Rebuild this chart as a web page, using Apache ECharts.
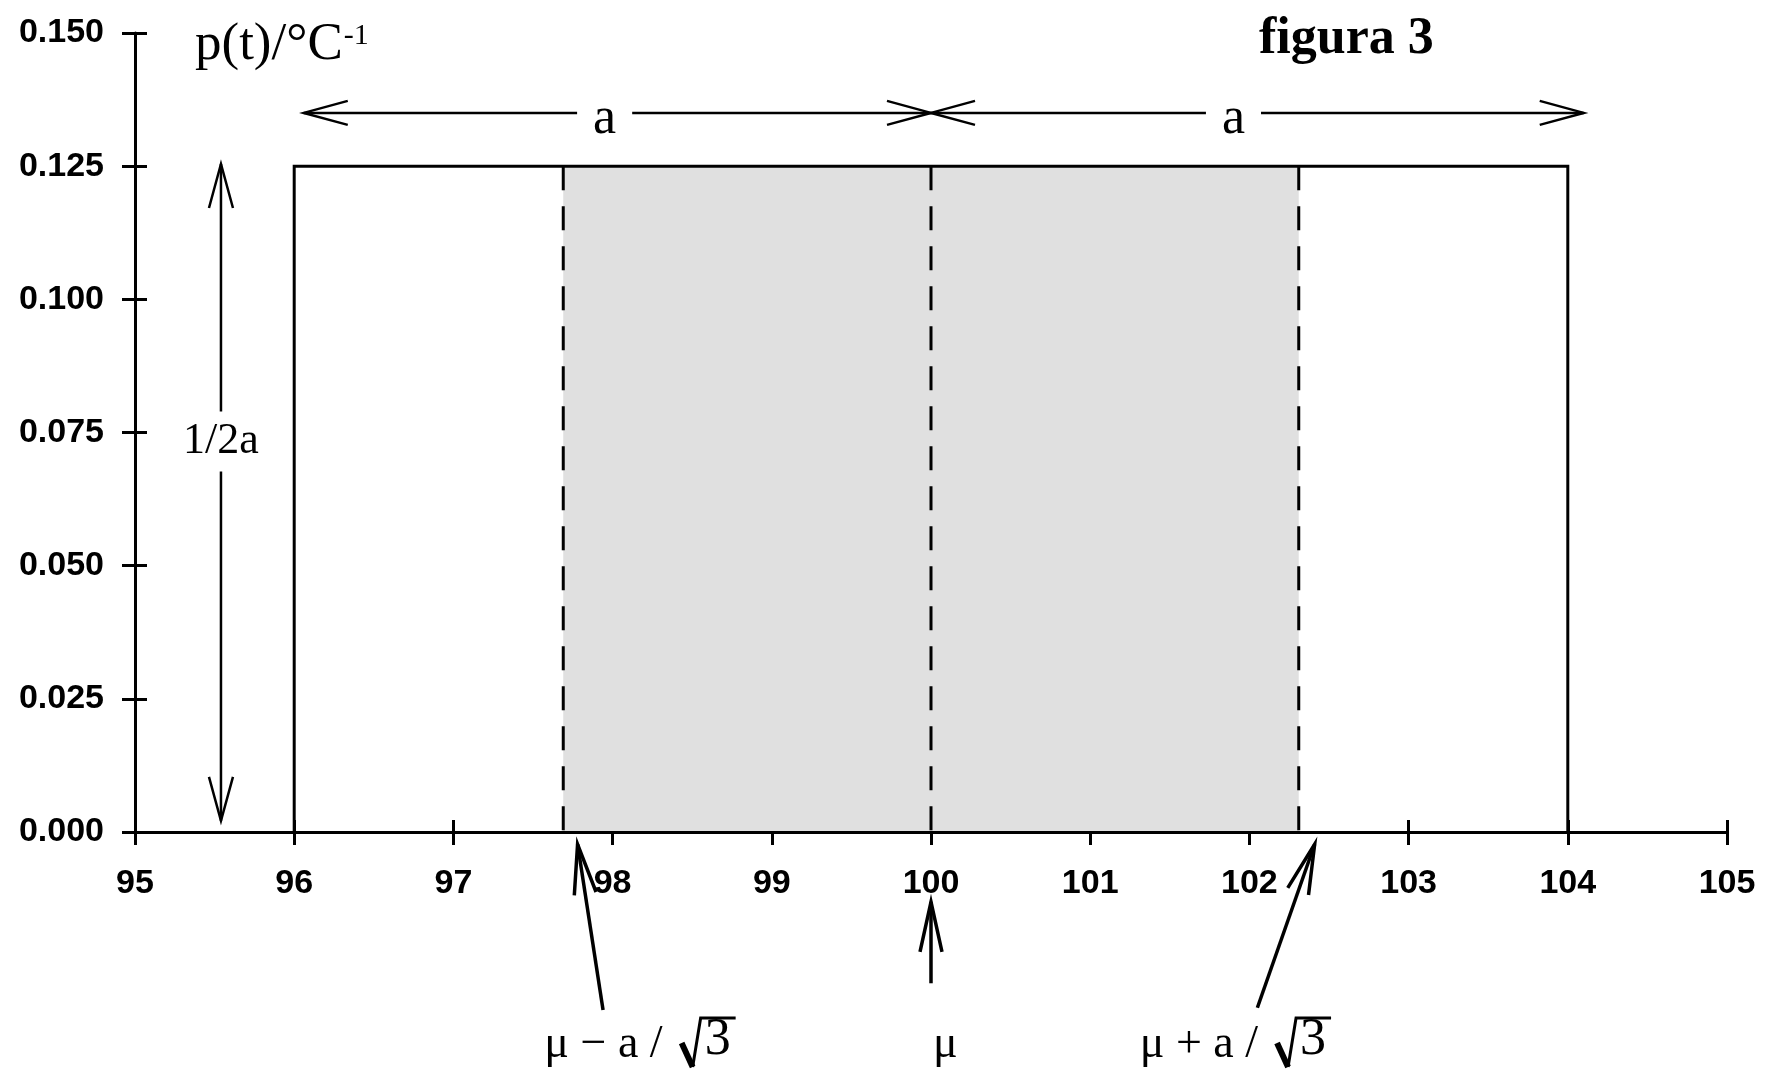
<!DOCTYPE html>
<html>
<head>
<meta charset="utf-8">
<script src="https://cdn.jsdelivr.net/npm/echarts@6/dist/echarts.min.js"></script>
<style>
html,body{margin:0;padding:0;background:#fff;}
#chart{width:1774px;height:1069px;}
</style>
</head>
<body>
<div id="chart"></div>
<script>
// ---------- data ----------
const xRange = [95, 105];
const xStep = 1;
const yRange = [0, 0.150];
const yStep = 0.025;
const yTickLabels = ['0.000', '0.025', '0.050', '0.075', '0.100', '0.125', '0.150'];

// rectangular distribution p(t)
const rectX = [96, 104];
const rectHeight = 0.125;
// shaded band mu - a/sqrt3 .. mu + a/sqrt3
const shadeX = [97.69, 102.31];
// dashed markers
const dashedX = [97.69, 100, 102.31];

// dimension arrows: [x1, y1, x2, y2]
const dimArrows = [
  [96.06, 0.135, 100, 0.135],
  [100, 0.135, 104.1, 0.135],
  [95.54, 0.0021, 95.54, 0.1254]
];
const dimLabelText = ['a', 'a', '1/2a'];
const dimLabelX = [97.95, 101.9, 95.54];
const dimLabelY = [0.1337, 0.1337, 0.0733];

// pointer arrows below the axis: [tailX, tailY, tipX, tipY]
const pointerArrows = [
  [97.94, -0.0334, 97.78, -0.0023],
  [100, -0.0284, 100, -0.0131],
  [102.05, -0.0330, 102.41, -0.0023]
];
const pointerLabelText = ['μ − a /', 'μ', 'μ + a /'];
const pointerLabelX = [98.44, 100.09, 102.18];
const pointerLabelY = [-0.0400, -0.0400, -0.0400];
const pointerLabelRoot = ['3', '', '3'];

const titleText = 'figura 3';
const yName = ['p(t)/°C', '-1'];

// ---------- helpers ----------
function arrowHead(tip, from, len, hw) {
  const dx = from[0] - tip[0], dy = from[1] - tip[1];
  const d = Math.hypot(dx, dy) || 1;
  const ux = dx / d, uy = dy / d;
  const bx = tip[0] + ux * len, by = tip[1] + uy * len;
  return [[bx - uy * hw, by + ux * hw], tip, [bx + uy * hw, by - ux * hw]];
}
function strokeStyle(w) {
  return { stroke: '#000', lineWidth: w, fill: null, lineCap: 'butt', lineJoin: 'miter' };
}
const SERIF = '"Liberation Serif", "Times New Roman", serif';
const SANS = '"Liberation Sans", Arial, sans-serif';

const chart = echarts.init(document.getElementById('chart'), null, { renderer: 'canvas' });

const baseAxisLine = { show: true, lineStyle: { color: '#000', width: 3 } };

const option = {
  animation: false,
  backgroundColor: '#fff',
  title: {
    text: titleText,
    left: 1254,
    top: 9,
    textStyle: { fontFamily: SERIF, fontWeight: 'bold', fontSize: 52, color: '#000' }
  },
  grid: { left: 135, right: 47, top: 33, bottom: 237, containLabel: false },
  xAxis: [
    {
      type: 'value', min: xRange[0], max: xRange[1], interval: xStep,
      position: 'bottom', z: 3,
      axisLine: baseAxisLine,
      axisTick: { show: true, inside: false, length: 13, lineStyle: { color: '#000', width: 3 } },
      axisLabel: { show: true, margin: 35, color: '#000', fontFamily: SANS, fontWeight: 'bold', fontSize: 34 },
      splitLine: { show: false }
    },
    {
      type: 'value', min: xRange[0], max: xRange[1], interval: xStep,
      position: 'bottom', z: 0,
      axisLine: { show: false },
      axisTick: { show: true, inside: true, length: 12, lineStyle: { color: '#000', width: 3 } },
      axisLabel: { show: false },
      splitLine: { show: false }
    }
  ],
  yAxis: [
    {
      type: 'value', min: yRange[0], max: yRange[1], interval: yStep,
      position: 'left', z: 3,
      axisLine: baseAxisLine,
      axisTick: { show: true, inside: false, length: 13, lineStyle: { color: '#000', width: 3 } },
      axisLabel: {
        show: true, margin: 31, color: '#000', fontFamily: SANS, fontWeight: 'bold', fontSize: 34,
        formatter: function (v) { return yTickLabels[Math.round(v / yStep)]; }
      },
      splitLine: { show: false },
      name: '{m|' + yName[0] + '}{s|' + yName[1] + '}',
      nameLocation: 'end',
      nameGap: -12,
      nameTextStyle: {
        align: 'left', verticalAlign: 'middle', padding: [0, 0, 0, 60],
        rich: {
          m: { fontFamily: SERIF, fontSize: 53, color: '#000', lineHeight: 56 },
          s: { fontFamily: SERIF, fontSize: 30, color: '#000', verticalAlign: 'top', lineHeight: 56, padding: [4, 0, 0, 1] }
        }
      }
    },
    {
      type: 'value', min: yRange[0], max: yRange[1], interval: yStep,
      position: 'left', z: 0,
      axisLine: { show: false },
      axisTick: { show: true, inside: true, length: 12, lineStyle: { color: '#000', width: 3 } },
      axisLabel: { show: false },
      splitLine: { show: false }
    }
  ],
  series: []
};

// shaded band
option.series.push({
  type: 'line', name: 'shade', symbol: 'none', silent: true,
  data: [[shadeX[0], rectHeight], [shadeX[1], rectHeight]],
  lineStyle: { width: 0, opacity: 0 },
  areaStyle: { color: '#e0e0e0', opacity: 1 }
});
// rectangle outline
option.series.push({
  type: 'line', name: 'rect', symbol: 'none', silent: true,
  data: [[rectX[0], 0], [rectX[0], rectHeight], [rectX[1], rectHeight], [rectX[1], 0]],
  lineStyle: { color: '#000', width: 3, join: 'miter' }
});
// dashed verticals
dashedX.forEach(function (x, i) {
  option.series.push({
    type: 'line', name: 'dash' + i, symbol: 'none', silent: true,
    data: [[x, rectHeight], [x, 0]],
    lineStyle: { color: '#000', width: 3, type: [24, 16] }
  });
});
// dimension arrows (double headed, thin)
option.series.push({
  type: 'custom', name: 'dimArrows', silent: true,
  data: dimArrows,
  encode: { x: [0, 2], y: [1, 3] },
  renderItem: function (params, api) {
    const p1 = api.coord([api.value(0), api.value(1)]);
    const p2 = api.coord([api.value(2), api.value(3)]);
    return {
      type: 'group', children: [
        { type: 'polyline', shape: { points: [p1, p2] }, style: strokeStyle(2.5) },
        { type: 'polyline', shape: { points: arrowHead(p1, p2, 44, 12) }, style: strokeStyle(2.5) },
        { type: 'polyline', shape: { points: arrowHead(p2, p1, 44, 12) }, style: strokeStyle(2.5) }
      ]
    };
  }
});
// dimension labels with white knock-out
option.series.push({
  type: 'custom', name: 'dimLabels', silent: true,
  data: dimLabelX.map(function (x, i) { return [x, dimLabelY[i]]; }),
  renderItem: function (params, api) {
    const i = params.dataIndex;
    const p = api.coord([api.value(0), api.value(1)]);
    const vertical = i === 2;
    return {
      type: 'text', x: p[0], y: p[1],
      style: {
        text: dimLabelText[i],
        font: (vertical ? 44 : 52) + 'px ' + SERIF,
        fill: '#000', align: 'center', verticalAlign: 'middle',
        backgroundColor: '#fff',
        padding: vertical ? [8, 2, 8, 2] : [0, 16, 0, 16]
      }
    };
  }
});
// pointer arrows (single headed, thick)
option.series.push({
  type: 'custom', name: 'pointerArrows', silent: true,
  data: pointerArrows,
  encode: { x: [0, 2], y: [1, 3] },
  renderItem: function (params, api) {
    const tail = api.coord([api.value(0), api.value(1)]);
    const tip = api.coord([api.value(2), api.value(3)]);
    return {
      type: 'group', children: [
        { type: 'polyline', shape: { points: [tail, tip] }, style: strokeStyle(3.5) },
        { type: 'polyline', shape: { points: arrowHead(tip, tail, 50, 11) }, style: strokeStyle(3.5) }
      ]
    };
  }
});
// pointer labels
option.series.push({
  type: 'custom', name: 'pointerLabels', silent: true,
  data: pointerLabelX.map(function (x, i) { return [x, pointerLabelY[i]]; }),
  renderItem: function (params, api) {
    const i = params.dataIndex;
    const p = api.coord([api.value(0), api.value(1)]);
    const root = pointerLabelRoot[i];
    if (!root) {
      return {
        type: 'text', x: p[0], y: p[1],
        style: { text: pointerLabelText[i], font: '46px ' + SERIF, fill: '#000', align: 'center', verticalAlign: 'middle' }
      };
    }
    const x = p[0], y = p[1];
    return {
      type: 'group', children: [
        { type: 'text', x: x - 20, y: y,
          style: { text: pointerLabelText[i], font: '46px ' + SERIF, fill: '#000', align: 'right', verticalAlign: 'middle' } },
        // radical sign
        { type: 'polyline', shape: { points: [[x - 1, y - 2], [x + 10, y + 22]] }, style: { stroke: '#000', lineWidth: 6, fill: null } },
        { type: 'polyline', shape: { points: [[x + 10, y + 22], [x + 18, y - 27], [x + 53, y - 27]] }, style: { stroke: '#000', lineWidth: 3, fill: null, lineJoin: 'miter' } },
        { type: 'text', x: x + 35, y: y - 5,
          style: { text: root, font: '52px ' + SERIF, fill: '#000', align: 'center', verticalAlign: 'middle' } }
      ]
    };
  }
});

chart.setOption(option);
</script>
</body>
</html>
